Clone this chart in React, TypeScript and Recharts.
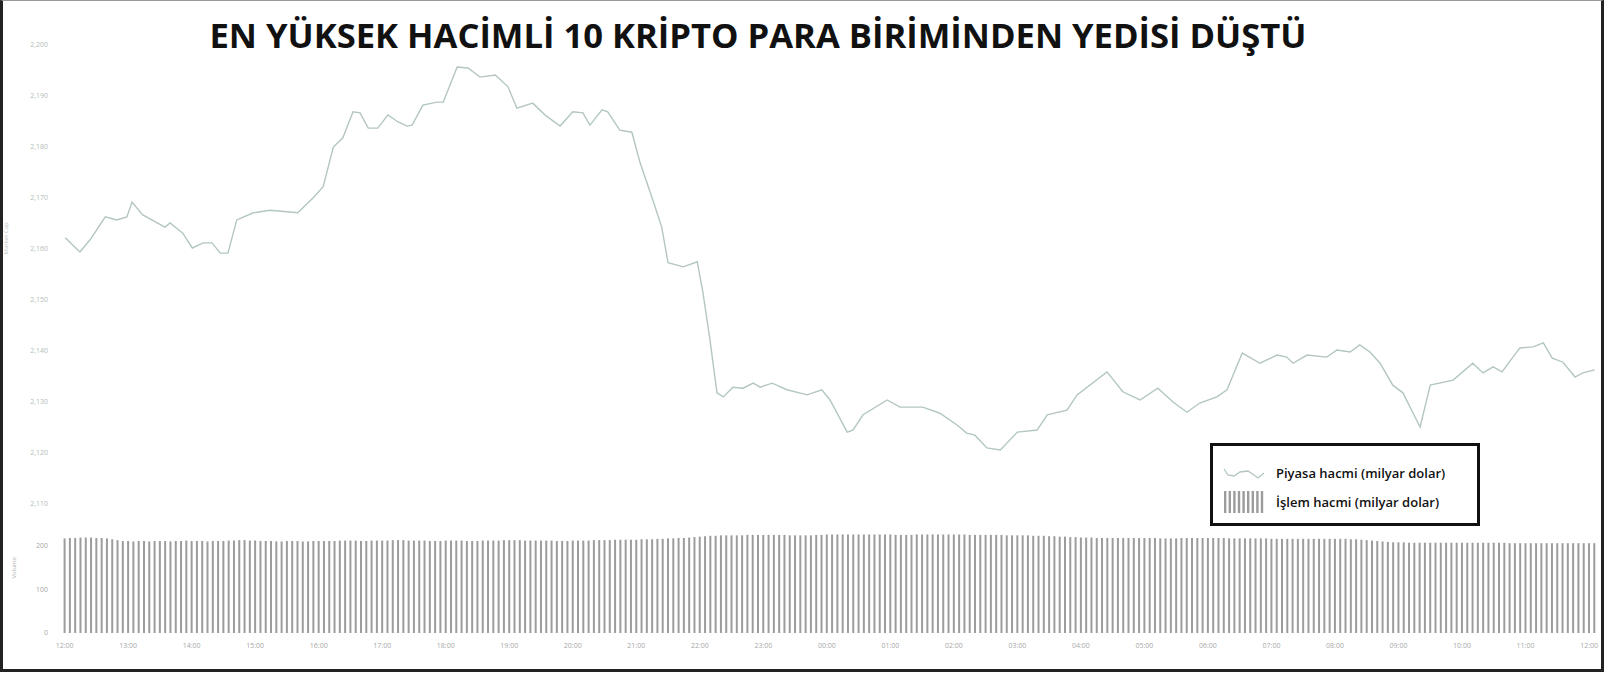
import React from 'react';
import { LineChart, Line, BarChart, Bar, XAxis, YAxis, Legend } from 'recharts';

const FONT = '"Open Sans", "Liberation Sans", sans-serif';
const LINE_COLOR = '#b3c6c1';
const BAR_COLOR = '#9c9c9c';

const TITLE = 'EN YÜKSEK HACİMLİ 10 KRİPTO PARA BİRİMİNDEN YEDİSİ DÜŞTÜ';

// x labels, one per hour
const hourLabels = [
  '12:00', '13:00', '14:00', '15:00', '16:00', '17:00', '18:00', '19:00', '20:00',
  '21:00', '22:00', '23:00', '00:00', '01:00', '02:00', '03:00', '04:00', '05:00',
  '06:00', '07:00', '08:00', '09:00', '10:00', '11:00', '12:00',
];

const marketTicks = [2110, 2120, 2130, 2140, 2150, 2160, 2170, 2180, 2190, 2200];
const volumeTicks = [0, 100, 200];

// market cap (billion $), time in hours from the first label
const lineTimes = [
  0.01, 0.24, 0.4, 0.64, 0.82, 0.98, 1.06, 1.23, 1.58, 1.66, 1.86, 2.01, 2.18, 2.32, 2.45, 2.57,
  2.71, 2.97, 3.23, 3.5, 3.67, 3.91, 4.07, 4.15, 4.23, 4.38, 4.54, 4.65, 4.78, 4.93, 5.09, 5.25,
  5.39, 5.47, 5.64, 5.86, 5.96, 6.18, 6.35, 6.54, 6.78, 6.98, 7.12, 7.37, 7.56, 7.8, 8.0, 8.16,
  8.27, 8.46, 8.55, 8.74, 8.93, 9.06, 9.26, 9.4, 9.5, 9.74, 9.96, 10.05, 10.16, 10.27, 10.37, 10.52,
  10.68, 10.84, 10.95, 11.14, 11.37, 11.69, 11.92, 12.05, 12.32, 12.41, 12.57, 12.95, 13.15, 13.51,
  13.78, 14.05, 14.2, 14.33, 14.52, 14.73, 15.0, 15.31, 15.47, 15.78, 15.94, 16.41, 16.66, 16.93,
  17.21, 17.45, 17.67, 17.87, 18.14, 18.3, 18.54, 18.82, 19.09, 19.24, 19.34, 19.56, 19.87, 20.03,
  20.24, 20.39, 20.55, 20.71, 20.91, 21.07, 21.23, 21.34, 21.5, 21.86, 22.17, 22.33, 22.49, 22.63,
  22.91, 23.12, 23.28, 23.42, 23.59, 23.78, 23.9, 24.09,
];
const marketValues = [
  2162.2, 2159.4, 2161.8, 2166.3, 2165.7, 2166.3, 2169.2, 2166.7, 2164.3, 2165.1, 2163.1, 2160.2,
  2161.2, 2161.2, 2159.2, 2159.2, 2165.7, 2167.1, 2167.6, 2167.3, 2167.1, 2170.0, 2172.2, 2176.1,
  2180.0, 2181.8, 2186.9, 2186.7, 2183.7, 2183.7, 2186.3, 2184.9, 2184.1, 2184.3, 2188.2, 2188.8,
  2188.8, 2195.7, 2195.5, 2193.7, 2194.1, 2191.8, 2187.6, 2188.6, 2186.3, 2184.1, 2186.9, 2186.7,
  2184.3, 2187.3, 2186.9, 2183.3, 2182.9, 2176.9, 2169.6, 2164.3, 2157.3, 2156.5, 2157.5, 2151.4,
  2142.2, 2131.8, 2131.0, 2132.9, 2132.7, 2133.7, 2132.9, 2133.7, 2132.4, 2131.4, 2132.4, 2130.4,
  2124.1, 2124.5, 2127.5, 2130.4, 2129.0, 2129.0, 2127.8, 2125.5, 2123.9, 2123.5, 2121.0, 2120.6,
  2124.1, 2124.5, 2127.5, 2128.4, 2131.4, 2135.9, 2132.0, 2130.4, 2132.7, 2130.0, 2128.0, 2129.8,
  2131.0, 2132.4, 2139.6, 2137.6, 2139.2, 2138.8, 2137.6, 2139.2, 2138.8, 2140.2, 2139.8, 2141.2,
  2139.8, 2137.6, 2133.3, 2131.8, 2127.8, 2125.1, 2133.3, 2134.3, 2137.6, 2135.7, 2136.9, 2135.9,
  2140.6, 2140.8, 2141.6, 2138.6, 2137.8, 2134.9, 2135.7, 2136.3,
];

// trading volume (billion $), one bar per 5 minutes
const volumeValues = [
  217, 218, 218, 219, 219, 219, 218, 218, 217, 215, 213,
  211, 211, 210, 211, 211, 210, 211, 211, 211, 210, 211, 211, 212, 211, 211, 211, 210, 211, 211, 211,
  212, 212, 213, 213, 212, 212, 211, 211, 211, 210, 210, 211, 211, 211, 210, 210, 211, 211, 211, 211,
  211, 212, 212, 212, 212, 211, 211, 212, 212, 212,
  212, 213, 213, 213, 212, 212, 212, 212, 211, 211, 211, 212, 212, 212, 212, 211, 211, 211, 212, 212,
  212, 212, 213, 213, 213, 213, 212, 212, 212, 212, 212, 212, 211, 211, 211, 212, 212, 212, 212, 213,
  213, 213, 213, 214, 214, 214, 214, 214, 215, 215,
  215, 216, 216, 217, 217, 218, 218, 219, 220, 221,
  222, 223, 223, 224, 224, 224, 224, 224, 225, 225, 225, 225, 225, 225, 225, 225, 224, 224, 224, 224,
  224, 225, 225, 226, 226, 226, 226, 226, 226, 226, 226, 226, 226, 226, 226, 226, 225, 225, 225, 225,
  226, 226, 226, 226, 226, 226, 226, 226, 226, 226, 225, 225, 225, 225, 225, 225, 225, 224, 224, 224,
  224, 224, 223, 223, 223, 222, 222, 221, 221, 220, 220, 219, 219, 219, 218, 218, 218, 218, 218, 218,
  218, 218, 218, 218, 218, 218, 217, 217, 217, 217, 218, 218, 218, 218, 218, 218, 218, 218, 218, 217,
  217, 217, 217, 217, 217, 217, 217, 216, 216, 216, 216, 216, 216, 216, 216, 216, 216, 216, 216, 216,
  216, 216, 215, 215, 214, 213, 212, 211, 210, 209,
  208, 208, 208, 207, 207, 207, 207, 207, 207, 207, 207, 207, 207, 207, 207, 207, 207, 207, 207, 207,
  207, 207, 206, 206, 206, 206, 206, 206, 206, 206, 206, 206, 206, 206, 206, 206, 206, 206, 206,
];

const lineData = lineTimes.map((t, i) => ({ t, v: marketValues[i] }));
const barData = volumeValues.map((v, i) => ({ i, v }));

const legendItems = [
  { label: 'Piyasa hacmi (milyar dolar)', kind: 'line' },
  { label: 'İşlem hacmi (milyar dolar)', kind: 'bar' },
];

const fmt = (n: number) => n.toLocaleString('en-US');

function LegendBox() {
  return (
    <div
      style={{
        boxSizing: 'border-box',
        width: 270,
        height: 83,
        border: '3px solid #111',
        background: '#fff',
        position: 'relative',
        fontFamily: FONT,
      }}
    >
      {legendItems.map((item, k) => (
        <div
          key={item.label}
          style={{ position: 'absolute', left: 9, top: k === 0 ? 14 : 43, height: 26, display: 'flex', alignItems: 'center' }}
        >
          {item.kind === 'line' ? (
            <svg width={44} height={20}>
              <path
                d="M2 6 L6 12 L12 13 L18 9 L26 8 L32 12 L36 15 L42 10"
                fill="none"
                stroke={LINE_COLOR}
                strokeWidth={1.3}
              />
            </svg>
          ) : (
            <svg width={44} height={24}>
              {[0, 1, 2, 3, 4, 5, 6, 7, 8].map((s) => (
                <rect key={s} x={2 + s * 4.6} y={1} width={2.4} height={22} fill={BAR_COLOR} />
              ))}
            </svg>
          )}
          <span style={{ marginLeft: 10, fontSize: 13, fontWeight: 600, color: '#111', whiteSpace: 'nowrap' }}>
            {item.label}
          </span>
        </div>
      ))}
    </div>
  );
}

export default function App() {
  return (
    <div style={{ position: 'absolute', left: 0, top: 0, width: 1607, height: 675, background: '#fff', fontFamily: FONT }}>
      {/* volume bars */}
      <div style={{ position: 'absolute', left: 0, top: 0 }}>
        <BarChart
          width={1607}
          height={675}
          data={barData}
          margin={{ top: 524, right: 10, bottom: 12, left: 0 }}
          barCategoryGap="30%"
        >
          <XAxis
            dataKey="i"
            interval={11}
            tickFormatter={(i: number) => hourLabels[i / 12]}
            axisLine={false}
            tickLine={false}
            tickMargin={4}
            tick={{ fontSize: 7, fill: '#a8a8a8', fontFamily: FONT }}
          />
          <YAxis
            width={62}
            domain={[0, 250]}
            ticks={volumeTicks}
            axisLine={false}
            tickLine={false}
            tickMargin={8}
            tick={{ fontSize: 7, fill: '#a8a8a8', fontFamily: FONT }}
            label={{ value: 'Volume', angle: -90, position: 'insideLeft', offset: 14, style: { fontSize: 6, fill: '#b0b0b0' } }}
          />
          <Bar dataKey="v" fill={BAR_COLOR} isAnimationActive={false} />
        </BarChart>
      </div>

      {/* market cap line */}
      <div style={{ position: 'absolute', left: 0, top: 0 }}>
        <LineChart width={1607} height={520} data={lineData} margin={{ top: 45, right: 10, bottom: 16, left: 0 }}>
          <XAxis type="number" dataKey="t" domain={[-1 / 24, 289 / 12 + 1 / 24]} hide />
          <YAxis
            width={62}
            domain={[2110, 2200]}
            ticks={marketTicks}
            tickFormatter={fmt}
            axisLine={false}
            tickLine={false}
            tickMargin={8}
            tick={{ fontSize: 7, fill: '#b4bdb9', fontFamily: FONT }}
            label={{ value: 'Market Cap', angle: -90, position: 'insideLeft', offset: 6, dy: -20, style: { fontSize: 6, fill: '#bcc6c2' } }}
          />
          <Legend
            layout="vertical"
            align="center"
            verticalAlign="middle"
            content={() => <LegendBox />}
            wrapperStyle={{ left: 1210, top: 443, width: 270, height: 83 }}
          />
          <Line
            type="linear"
            dataKey="v"
            stroke={LINE_COLOR}
            strokeWidth={1.4}
            dot={false}
            isAnimationActive={false}
          />
        </LineChart>
      </div>

      {/* title */}
      <svg width={1607} height={60} style={{ position: 'absolute', left: 0, top: 0 }}>
        <text
          x={758}
          y={48}
          textAnchor="middle"
          fontFamily={FONT}
          fontWeight={700}
          fontSize={34}
          fill="#111"
          textLength={1097}
          lengthAdjust="spacingAndGlyphs"
        >
          {TITLE}
        </text>
      </svg>

      {/* frame */}
      <div
        style={{
          position: 'absolute',
          left: 0,
          top: 0,
          width: 1604,
          height: 672,
          boxSizing: 'border-box',
          borderLeft: '3px solid #222',
          borderRight: '3px solid #222',
          borderBottom: '3px solid #222',
          borderTop: '1px solid #999',
          pointerEvents: 'none',
        }}
      />
    </div>
  );
}
